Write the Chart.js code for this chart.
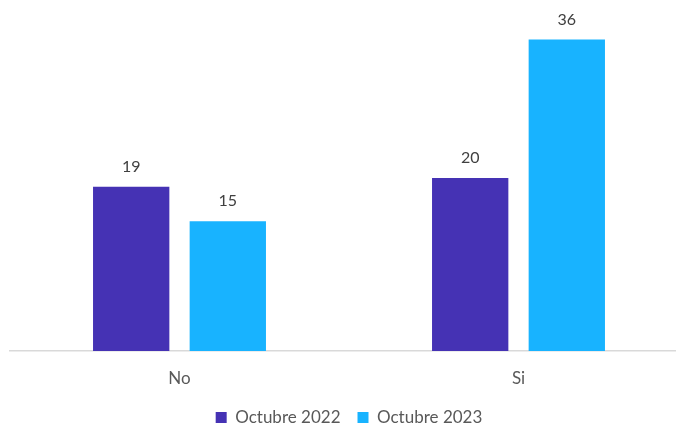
<!DOCTYPE html>
<html>
<head>
<meta charset="utf-8">
<script src="https://cdn.jsdelivr.net/npm/chart.js@4"></script>
<style>
  html, body { margin: 0; padding: 0; background: #fff; overflow: hidden; }
  #wrap { width: 688px; height: 423px; }
</style>
</head>
<body>
<div id="wrap"><canvas id="chart" width="688" height="423"></canvas></div>
<script>
const categories = ["No", "Si"];
const seriesNames = ["Octubre 2022", "Octubre 2023"];
const oct2022 = [19, 20];
const oct2023 = [15, 36];

// draws the value above each bar
const valueLabels = {
    id: 'valueLabels',
    afterDatasetsDraw(chart) {
        const ctx = chart.ctx;
        ctx.save();
        ctx.font = '16px Lato, "Open Sans", sans-serif';
        ctx.fillStyle = '#404040';
        ctx.textAlign = 'center';
        ctx.textBaseline = 'bottom';
        chart.data.datasets.forEach((ds, i) => {
            chart.getDatasetMeta(i).data.forEach((bar, j) => {
                ctx.fillText(ds.data[j], bar.x, bar.y - 12);
            });
        });
        ctx.restore();
    }
};

// legend box is too tall by default, trim it
const legendHeight = {
    id: 'legendHeight',
    beforeLayout(chart) {
        const lg = chart.legend;
        if (lg && !lg._trimmed) {
            const fit = lg.fit;
            lg.fit = function() {
                fit.call(this);
                this.height = 31;
            };
            lg._trimmed = true;
        }
    }
};

const ctx = document.getElementById("chart");
const chart = new Chart(ctx, {
    type: 'bar',
    data: {
        labels: categories,
        datasets: [{
            label: seriesNames[0],
            data: oct2022,
            backgroundColor: "#4532B4",
            categoryPercentage: 0.57,
            barPercentage: 0.79
        }, {
            label: seriesNames[1],
            data: oct2023,
            backgroundColor: "#18B3FF",
            categoryPercentage: 0.57,
            barPercentage: 0.79
        }]
    },
    options: {
        responsive: false,
        animation: false,
        layout: {
            padding: { left: 10, top: 5, right: 0, bottom: 0 }
        },
        plugins: {
            legend: {
                position: 'bottom',
                labels: {
                    boxWidth: 11,
                    boxHeight: 11,
                    padding: 17,
                    color: '#595959',
                    font: { family: 'Lato, "Open Sans", sans-serif', size: 17 }
                }
            },
            tooltip: { enabled: false }
        },
        scales: {
            x: {
                grid: { display: false, drawTicks: false },
                border: { color: '#D9D9D9', width: 1.5 },
                ticks: {
                    padding: 17,
                    color: '#595959',
                    font: { family: 'Lato, "Open Sans", sans-serif', size: 17 }
                },
                afterFit(scale) {
                    scale.height = 41;
                }
            },
            y: {
                display: false,
                min: 0,
                max: 40
            }
        }
    },
    plugins: [valueLabels, legendHeight]
});
</script>
</body>
</html>
